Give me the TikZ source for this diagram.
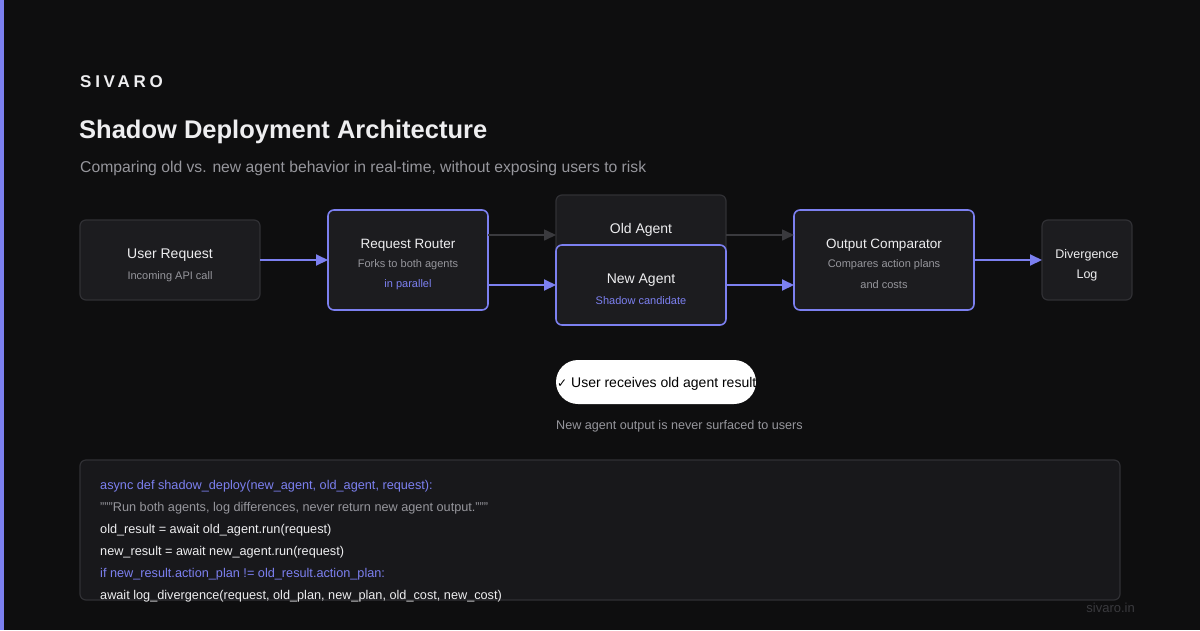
\documentclass[tikz,border=0pt]{standalone}
\usepackage{fontspec}
\setmainfont{Liberation Sans}
\newfontfamily\spacedfont[LetterSpace=22]{Liberation Sans}
\newfontfamily\symfont{DejaVu Sans}
\usetikzlibrary{arrows.meta}
\definecolor{bg}{RGB}{14,14,15}
\definecolor{boxfill}{RGB}{28,28,31}
\definecolor{codefill}{RGB}{24,24,27}
\definecolor{edgegray}{RGB}{48,48,52}
\definecolor{arrowgray}{RGB}{58,58,62}
\definecolor{accent}{RGB}{124,128,240}
\definecolor{subgray}{RGB}{150,150,156}
\definecolor{textwhite}{RGB}{238,238,240}
\definecolor{footgray}{RGB}{58,58,62}
\tikzset{
  plainbox/.style={draw=edgegray, line width=1.2pt, fill=boxfill, rounded corners=6pt},
  accentbox/.style={draw=accent, line width=1.6pt, fill=boxfill, rounded corners=6pt},
  headtxt/.style={text=textwhite, font=\fontsize{14}{16}\selectfont, inner sep=0pt},
  subtxt/.style={text=subgray, font=\fontsize{11}{12}\selectfont, inner sep=0pt},
  acctxt/.style={text=accent, font=\fontsize{11}{12}\selectfont, inner sep=0pt},
  purplearrow/.style={draw=accent, line width=2pt, -{Triangle[length=12pt,width=11pt]}},
  grayarrow/.style={draw=arrowgray, line width=1.6pt, -{Triangle[length=12pt,width=11pt]}},
  codeline/.style={anchor=west, inner sep=0pt, font=\fontsize{12.7}{14}\selectfont},
}
\begin{document}
\begin{tikzpicture}[x=1pt,y=-1pt]
\useasboundingbox (0,0) rectangle (1200,630);
\fill[bg] (0,0) rectangle (1200,630);
\fill[accent] (0,0) rectangle (4,630);

% header
\node[anchor=west, inner sep=0pt, text=textwhite, font=\spacedfont\bfseries\fontsize{17}{20}\selectfont] (brand) at (80,82) {SIVARO};
\node[anchor=west, inner sep=0pt, text=textwhite, font=\bfseries\fontsize{25.5}{30}\selectfont] (title) at (79,132) {Shadow Deployment Architecture};
\node[anchor=west, inner sep=0pt, text=subgray, font=\fontsize{15.7}{18}\selectfont] (subtitle) at (80,168) {Comparing old vs. new agent behavior in real-time, without exposing users to risk};

% boxes
\draw[plainbox] (80,220) rectangle (260,300);
\node[headtxt] (urt) at (170,255) {User Request};
\node[subtxt] (urs) at (170,277) {Incoming API call};

\draw[accentbox] (328,210) rectangle (488,310);
\node[headtxt, font=\fontsize{13.5}{15}\selectfont] (rrt) at (408,245) {Request Router};
\node[subtxt] (rrs) at (408,265) {Forks to both agents};
\node[acctxt] (rra) at (408,285) {in parallel};

\draw[plainbox] (556,195) rectangle (726,280);
\node[headtxt] (oat) at (641,230) {Old Agent};

\draw[accentbox] (556,245) rectangle (726,325);
\node[headtxt] (nat) at (641,280) {New Agent};
\node[acctxt] (nas) at (641,301) {Shadow candidate};

\draw[accentbox] (794,210) rectangle (974,310);
\node[headtxt, font=\fontsize{13.5}{15}\selectfont] (oct) at (884,245) {Output Comparator};
\node[subtxt] (ocs) at (884,265) {Compares action plans};
\node[subtxt] (ocs2) at (884,285) {and costs};

\draw[plainbox] (1042,220) rectangle (1132,300);
\node[headtxt, font=\fontsize{12.5}{15}\selectfont] (dlt) at (1087,255) {Divergence};
\node[headtxt, font=\fontsize{12.5}{15}\selectfont] (dlt2) at (1087,275) {Log};

% connector anchors
\coordinate (urE) at (260,260);
\coordinate (rrW) at (328,260);
\coordinate (rrE1) at (488,235);
\coordinate (rrE2) at (488,285);
\coordinate (oaW) at (556,235);
\coordinate (naW) at (556,285);
\coordinate (oaE) at (726,235);
\coordinate (naE) at (726,285);
\coordinate (ocW1) at (794,235);
\coordinate (ocW2) at (794,285);
\coordinate (ocE) at (974,260);
\coordinate (dlW) at (1042,260);

\draw[purplearrow] (urE) -- (rrW);
\draw[grayarrow] (rrE1) -- (oaW);
\draw[purplearrow] (rrE2) -- (naW);
\draw[grayarrow] (oaE) -- (ocW1);
\draw[purplearrow] (naE) -- (ocW2);
\draw[purplearrow] (ocE) -- (dlW);

% pill
\fill[white, rounded corners=22pt] (556,360) rectangle (756,404);
\node[anchor=west, inner sep=0pt, text=black, font=\fontsize{14}{16}\selectfont] (pill) at (557,384) {{\symfont\fontsize{12}{14}\selectfont ✓} User receives old agent result};
\node[anchor=west, inner sep=0pt, text=subgray, font=\fontsize{12.6}{14}\selectfont] (note) at (556,426) {New agent output is never surfaced to users};

% code box
\draw[draw=edgegray, line width=1.2pt, fill=codefill, rounded corners=6pt] (80,460) rectangle (1120,600);
\node[codeline, text=accent] (c1) at (100,486) {async def shadow\_deploy(new\_agent, old\_agent, request):};
\node[codeline, text=subgray] (c2) at (100,508) {"""Run both agents, log differences, never return new agent output."""};
\node[codeline, text=textwhite] (c3) at (100,530) {old\_result = await old\_agent.run(request)};
\node[codeline, text=textwhite] (c4) at (100,552) {new\_result = await new\_agent.run(request)};
\node[codeline, text=accent] (c5) at (100,574) {if new\_result.action\_plan != old\_result.action\_plan:};
\node[codeline, text=textwhite] (c6) at (100,596) {await log\_divergence(request, old\_plan, new\_plan, old\_cost, new\_cost)};

\node[anchor=east, inner sep=0pt, text=footgray, font=\fontsize{13}{15}\selectfont] (foot) at (1135,608) {sivaro.in};
\end{tikzpicture}
\end{document}
